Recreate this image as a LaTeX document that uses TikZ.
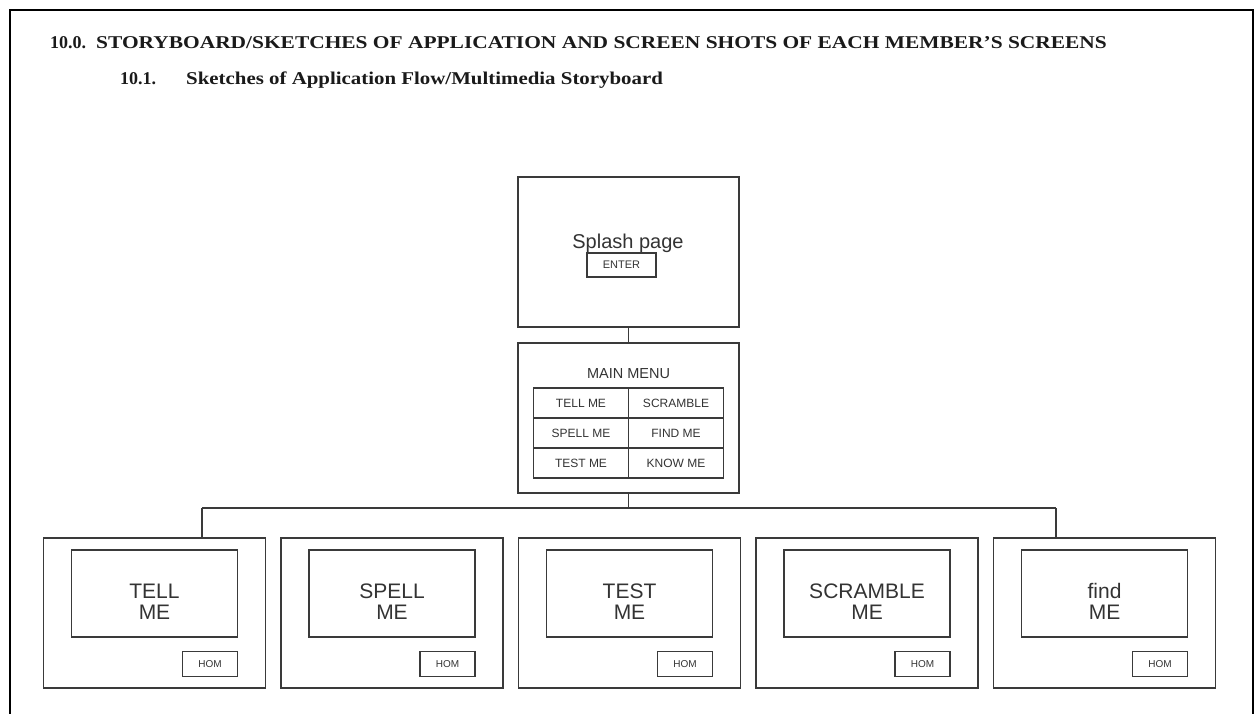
\documentclass[tikz,border=0pt]{standalone}
\usepackage{fontspec}
\setmainfont{Liberation Serif}
\newfontfamily\sketchfont{Liberation Sans}
\usepackage{graphicx}
\usepackage{tikz}
\usepackage{xcolor}
\usetikzlibrary{positioning,calc}
\definecolor{inkline}{HTML}{3A3A3A}
\definecolor{inktext}{HTML}{333333}
\definecolor{headink}{HTML}{1A1A1A}
\newcommand{\widehead}[1]{\scalebox{1.19}[1]{#1}}

\begin{document}
\begin{tikzpicture}[
        x=1pt, y=-1pt,
        every node/.style={inner sep=0pt, align=center},
        head/.style={font=\fontsize{18}{20}\selectfont\bfseries, text=headink, anchor=base west},
        page/.style={draw=inkline, line width=1.3pt, minimum width=221pt, minimum height=150pt},
        screen/.style={draw=inkline, line width=1.3pt, minimum width=222pt, minimum height=150pt},
        panel/.style={draw=inkline, line width=1.3pt, minimum width=166pt, minimum height=87pt},
        btn/.style={draw=inkline, line width=1.3pt, font=\sketchfont\fontsize{10}{10}\selectfont, text=inktext},
        cell/.style={draw=inkline, line width=1.3pt, minimum width=95pt, minimum height=30pt, font=\sketchfont\fontsize{12}{12}\selectfont, text=inktext},
        big/.style={font=\sketchfont\fontsize{21}{21}\selectfont, text=inktext},
        link/.style={draw=inkline, line width=1.3pt}
      ]
        \useasboundingbox (0,0) rectangle (1256,714);
        \draw[line width=2pt] (10,714) -- (10,10) -- (1253,10) -- (1253,714);
        \node[head] (secnum) at (50,49) {10.0.};
        \node[head] (sectitle) at (96,49) {\widehead{STORYBOARD/SKETCHES OF APPLICATION AND SCREEN SHOTS OF EACH MEMBER'S SCREENS}};
        \node[head] (subnum) at (120,85) {10.1.};
        \node[head] (subtitle) at (186,85) {\scalebox{1.16}[1]{Sketches of Application Flow/Multimedia Storyboard}};
        \node[page] (splash) at (628.5,252) {};
        \node[font=\sketchfont\fontsize{20}{20}\selectfont, text=inktext] (splashtxt) at (628,243) {Splash page};
        \node[btn, minimum width=69pt, minimum height=24pt, font=\sketchfont\fontsize{11}{11}\selectfont] (enter) at (621.5,265) {ENTER};
        \node[page] (menu) at (628.5,418) {};
        \node[font=\sketchfont\fontsize{14.5}{15}\selectfont, text=inktext] (menutxt) at (628.5,374) {MAIN MENU};
        \node[cell] (tell)     at (581,403) {TELL ME};
        \node[cell] (scramble) at (676,403) {SCRAMBLE};
        \node[cell] (spell)    at (581,433) {SPELL ME};
        \node[cell] (find)     at (676,433) {FIND ME};
        \node[cell] (test)     at (581,463) {TEST ME};
        \node[cell] (know)     at (676,463) {KNOW ME};
        \foreach \i/\txt in {1/{TELL\\ME}, 2/{SPELL\\ME}, 3/{TEST\\ME}, 4/{SCRAMBLE\\ME}, 5/{find\\ME}} {
          \node[screen] (scr\i) at ({154.5+237.5*(\i-1)},613) {};
          \node[panel, below=12pt of scr\i.north] (pan\i) {};
          \node[big] (lbl\i) at ($(pan\i)+(0,8)$) {\txt};
          \node[btn, minimum width=55pt, minimum height=25pt, anchor=north east] (hom\i) at ($(pan\i.south east)+(0,13)$) {HOM};
        }
        \coordinate (busL) at (202,508);
        \coordinate (busR) at (1056,508);
        \draw[link] (splash) -- (menu);
        \draw[link] (menu.south) -- (menu.south |- busL);
        \draw[link] (busL) -- (busR);
        \draw[link] (busL) -- (busL |- scr1.north);
        \draw[link] (busR) -- (busR |- scr5.north);
      \end{tikzpicture}
\end{document}
